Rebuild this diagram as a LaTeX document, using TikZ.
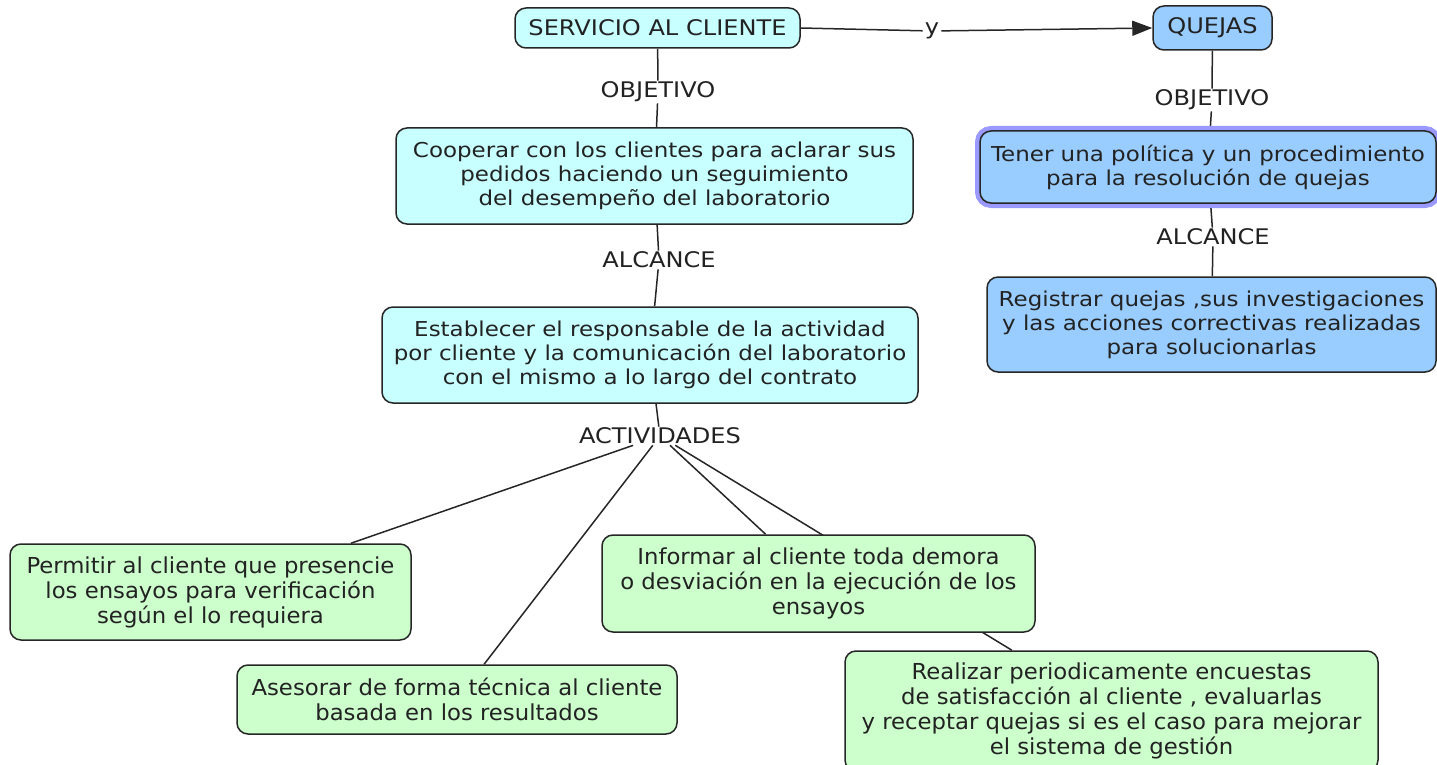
\documentclass[tikz,border=0pt]{standalone}
\usepackage{fontspec}
\setmainfont{DejaVu Sans}[FakeStretch=1.12]
\newfontfamily\narrowfont{DejaVu Sans Condensed}[FakeStretch=1.15]
\usetikzlibrary{arrows.meta,backgrounds}
\definecolor{cyanfill}{HTML}{C8FFFF}
\definecolor{bluefill}{HTML}{99CCFF}
\definecolor{greenfill}{HTML}{CCFFCC}
\definecolor{glowcol}{HTML}{9999FF}
\definecolor{txt}{HTML}{222222}
\tikzset{
  box/.style={draw=black!85, line width=1.5pt, rounded corners=11pt, align=center,
    text=txt, inner sep=0pt, font=\fontsize{20.5}{24}\selectfont},
  capsbox/.style={font=\fontsize{21.5}{24}\selectfont},
  cbox/.style={box, fill=cyanfill},
  bbox/.style={box, fill=bluefill},
  gbox/.style={box, fill=greenfill, font=\narrowfont\fontsize{22}{25}\selectfont},
  lab/.style={text=txt, inner sep=1pt, font=\fontsize{21.5}{22}\selectfont},
  conn/.style={draw=black!85, line width=1.5pt},
}
\begin{document}
\begin{tikzpicture}[x=1pt,y=-1pt]
\useasboundingbox (0,0) rectangle (1437,765);
% nodes
\node[cbox, capsbox, minimum width=285pt, minimum height=40pt] (serv) at (657.5,28) {SERVICIO AL CLIENTE};
\node[bbox, capsbox, minimum width=119pt, minimum height=44pt] (quej) at (1212.5,28) {QUEJAS};
\node[cbox, minimum width=517pt, minimum height=96pt] (coop) at (654.5,176) {Cooperar con los clientes para aclarar sus\\pedidos haciendo un seguimiento\\del desempeño del laboratorio};
\node[cbox, minimum width=536pt, minimum height=96pt] (est) at (650,355) {Establecer el responsable de la actividad\\por cliente y la comunicación del laboratorio\\con el mismo a lo largo del contrato};
\node[bbox, minimum width=456pt, minimum height=72pt, preaction={draw=glowcol, line width=10pt, rounded corners=11pt}] (ten) at (1208,167) {Tener una política y un procedimiento\\para la resolución de quejas};
\node[bbox, minimum width=449pt, minimum height=95pt] (reg) at (1211.5,324.5) {Registrar quejas ,sus investigaciones\\y las acciones correctivas realizadas\\para solucionarlas};
\node[gbox, minimum width=401pt, minimum height=96pt] (perm) at (210.5,592) {Permitir al cliente que presencie\\los ensayos para verificación\\según el lo requiera};
\node[gbox, minimum width=440pt, minimum height=69pt] (ases) at (457,699.5) {Asesorar de forma técnica al cliente\\basada en los resultados};
\node[gbox, minimum width=433pt, minimum height=97pt] (inf) at (818.5,583.5) {Informar al cliente toda demora\\o desviación en la ejecución de los\\ensayos};
\node[gbox, minimum width=533pt, minimum height=120pt] (real) at (1111.5,711) {Realizar periodicamente encuestas\\de satisfacción al cliente , evaluarlas\\y receptar quejas si es el caso para mejorar\\el sistema de gestión};
% labels
\node[lab] (obj1) at (658,92) {OBJETIVO};
\node[lab] (alc1) at (659,260) {ALCANCE};
\node[lab] (act) at (660,436) {ACTIVIDADES};
\node[lab] (obj2) at (1212,100) {OBJETIVO};
\node[lab] (alc2) at (1213,237) {ALCANCE};
\node[lab, inner sep=2pt] (yl) at (932,31) {y};
% connectors
\begin{scope}[on background layer]
\draw[conn] (serv) -- (obj1);
\draw[conn] (obj1) -- (coop);
\draw[conn] (coop) -- (alc1);
\draw[conn] (alc1) -- (est);
\draw[conn] (est) -- (act);
\draw[conn] (act) -- (perm);
\draw[conn] (act) -- (ases);
\draw[conn] (act) -- (inf);
\draw[conn] (act) -- (real);
\draw[conn] (quej) -- (obj2);
\draw[conn] (obj2) -- (ten);
\draw[conn] (ten) -- (alc2);
\draw[conn] (alc2) -- (reg);
\draw[conn] (serv.east) -- (yl);
\draw[conn, -{Triangle[length=20pt,width=15pt]}] (yl) -- (quej.west);
\end{scope}
\end{tikzpicture}
\end{document}
